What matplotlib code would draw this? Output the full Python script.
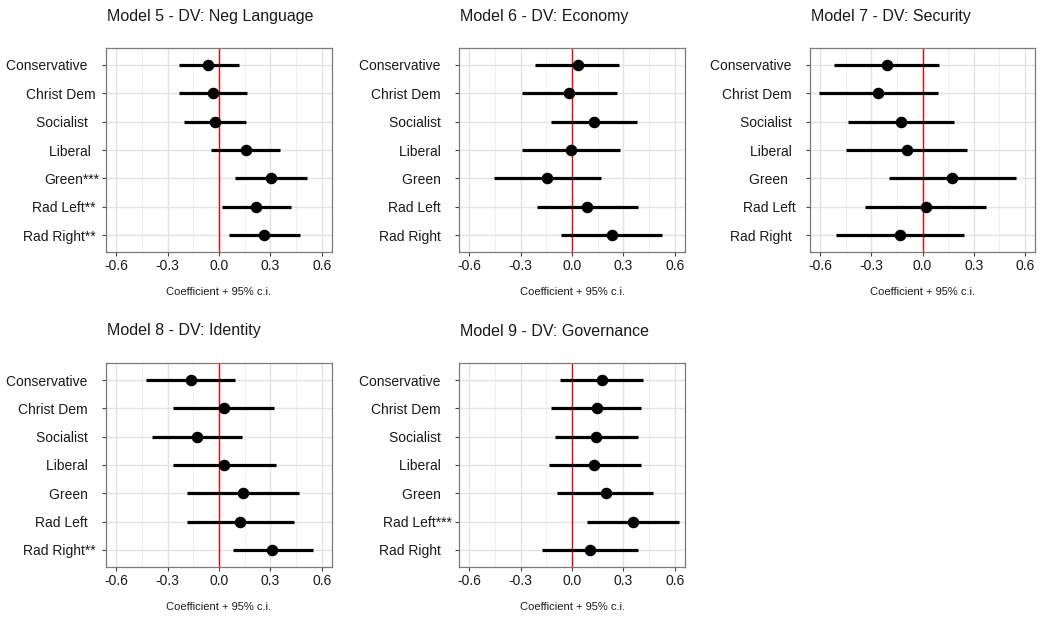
#!/usr/bin/env python3
"""Coefficient plots for models 5-9: party family effects with 95% c.i."""
import numpy as np
import matplotlib
matplotlib.use("Agg")
import matplotlib.pyplot as plt

plt.rcParams["font.family"] = ["Liberation Sans", "DejaVu Sans"]

titles = [
    "Model 5 - DV: Neg Language",
    "Model 6 - DV: Economy",
    "Model 7 - DV: Security",
    "Model 8 - DV: Identity",
    "Model 9 - DV: Governance",
]

# y tick labels, top to bottom (trailing spaces keep names lined up with starred ones)
labels_m5 = ["Conservative   ", "Christ Dem ", "Socialist   ", "Liberal  ",
             "Green***", "Rad Left** ", "Rad Right** "]
labels_m6 = ["Conservative   ", "Christ Dem   ", "Socialist   ", "Liberal   ",
             "Green   ", "Rad Left   ", "Rad Right   "]
labels_m7 = ["Conservative   ", "Christ Dem   ", "Socialist   ", "Liberal   ",
             "Green    ", "Rad Left  ", "Rad Right   "]
labels_m8 = ["Conservative   ", "Christ Dem   ", "Socialist   ", "Liberal   ",
             "Green   ", "Rad Left   ", "Rad Right** "]
labels_m9 = ["Conservative   ", "Christ Dem   ", "Socialist   ", "Liberal   ",
             "Green   ", "Rad Left***", "Rad Right   "]

# point estimates, lower and upper bounds (same order as labels)
est_m5 = [-0.062, -0.033, -0.021, 0.155, 0.301, 0.219, 0.264]
lo_m5 = [-0.233, -0.231, -0.202, -0.045, 0.091, 0.017, 0.056]
hi_m5 = [0.115, 0.163, 0.155, 0.357, 0.513, 0.421, 0.472]

est_m6 = [0.033, -0.017, 0.130, -0.006, -0.144, 0.089, 0.231]
lo_m6 = [-0.216, -0.291, -0.120, -0.291, -0.458, -0.206, -0.066]
hi_m6 = [0.276, 0.262, 0.377, 0.282, 0.169, 0.384, 0.528]

est_m7 = [-0.210, -0.260, -0.124, -0.093, 0.175, 0.021, -0.134]
lo_m7 = [-0.520, -0.610, -0.439, -0.450, -0.194, -0.336, -0.509]
hi_m7 = [0.099, 0.089, 0.186, 0.262, 0.546, 0.373, 0.241]

est_m8 = [-0.165, 0.031, -0.130, 0.031, 0.142, 0.124, 0.307]
lo_m8 = [-0.425, -0.266, -0.392, -0.270, -0.184, -0.186, 0.082]
hi_m8 = [0.095, 0.324, 0.132, 0.330, 0.466, 0.437, 0.550]

est_m9 = [0.175, 0.144, 0.142, 0.130, 0.196, 0.359, 0.103]
lo_m9 = [-0.068, -0.120, -0.101, -0.136, -0.085, 0.087, -0.173]
hi_m9 = [0.414, 0.402, 0.383, 0.402, 0.476, 0.627, 0.383]

xticks = [-0.6, -0.3, 0.0, 0.3, 0.6]
xlabel = "Coefficient + 95% c.i."

panels = [
    (labels_m5, est_m5, lo_m5, hi_m5),
    (labels_m6, est_m6, lo_m6, hi_m6),
    (labels_m7, est_m7, lo_m7, hi_m7),
    (labels_m8, est_m8, lo_m8, hi_m8),
    (labels_m9, est_m9, lo_m9, hi_m9),
]

W, H = 1045, 617
fig = plt.figure(figsize=(W / 100, H / 100), dpi=100)

# panel boxes in pixels: (left, top, width, height)
boxes = [(106, 48, 226, 204), (459, 48, 226, 204), (810, 48, 225, 204),
         (106, 363, 226, 204), (459, 363, 226, 204)]


def coef_panel(ax, labels, est, lo, hi):
    n = len(labels)
    y = np.arange(n)[::-1] + 1
    ax.set_xlim(-0.66, 0.66)
    ax.set_ylim(0.4, n + 0.6)
    ax.set_xticks(xticks)
    ax.set_xticklabels([f"{t:.1f}" for t in xticks])
    ax.set_xticks([-0.45, -0.15, 0.15, 0.45], minor=True)
    ax.set_yticks(y)
    ax.set_yticklabels(labels)
    ax.grid(which="major", color="#e3e3e3", lw=1.0, zorder=0)
    ax.grid(which="minor", axis="x", color="#efefef", lw=0.7, zorder=0)
    ax.set_axisbelow(True)
    ax.axvline(0, color="red", lw=1.0, zorder=2)
    ax.hlines(y, lo, hi, color="black", lw=2.3, zorder=3)
    ax.plot(est, y, "o", color="black", ms=7.3, zorder=4)
    for s in ax.spines.values():
        s.set_color("#7a7a7a")
        s.set_linewidth(0.9)
    ax.tick_params(which="major", length=3, width=0.8, color="#444444",
                   labelsize=10, labelcolor="#1a1a1a", pad=2)
    ax.tick_params(which="minor", length=0)


for (left, top, w, h), title, (labels, est, lo, hi) in zip(boxes, titles, panels):
    ax = fig.add_axes([left / W, 1 - (top + h) / H, w / W, h / H])
    coef_panel(ax, labels, est, lo, hi)
    fig.text((left + 1) / W, 1 - (top - 32) / H, title, fontsize=11.5,
             ha="left", va="center", color="#1a1a1a")
    fig.text((left + w / 2) / W, 1 - (top + h + 40) / H, xlabel, fontsize=8,
             ha="center", va="center", color="#1a1a1a")

fig.savefig("out.png", dpi=100)
